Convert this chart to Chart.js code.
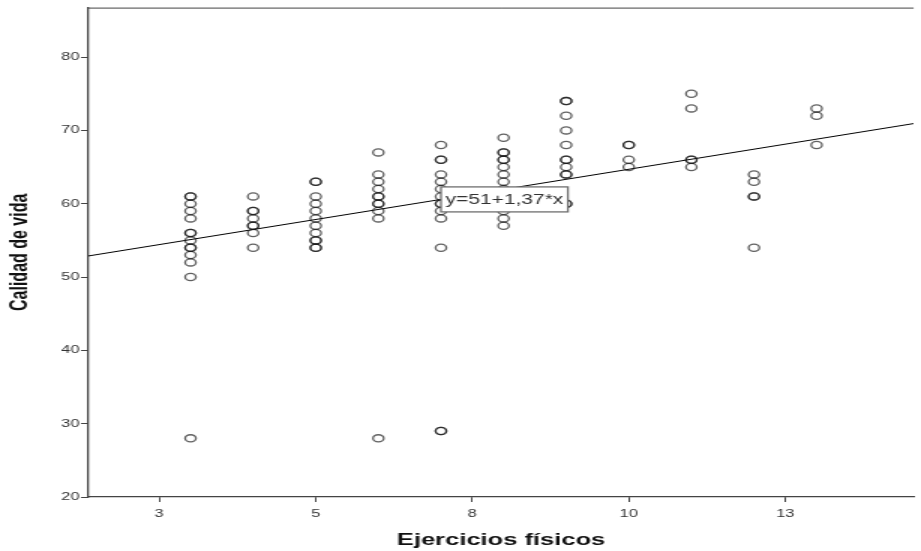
<!DOCTYPE html>
<html>
<head>
<meta charset="utf-8">
<script src="https://cdn.jsdelivr.net/npm/chart.js@4"></script>
<style>
  html, body { margin: 0; padding: 0; background: #fff; }
</style>
</head>
<body>
<!-- the plot is drawn narrow and shown stretched sideways -->
<canvas id="scatter" width="614" height="551" style="width:921px;height:551px;display:block"></canvas>
<script>
// Calidad de vida per value of Ejercicios físicos
const exercises = [3, 4, 5, 6, 7, 8, 9, 10, 11, 12, 13];
const quality3 = [61, 61, 60, 59, 58, 56, 56, 55, 54, 54, 53, 52, 50, 28];
const quality4 = [61, 59, 59, 58, 57, 57, 56, 54];
const quality5 = [63, 63, 61, 60, 59, 58, 57, 56, 55, 55, 54, 54];
const quality6 = [67, 64, 63, 62, 61, 61, 60, 60, 59, 58, 28];
const quality7 = [68, 66, 66, 64, 63, 62, 61, 60, 60, 59, 58, 54, 29, 29];
const quality8 = [69, 67, 67, 66, 66, 65, 64, 63, 62, 61, 60, 59, 58, 57];
const quality9 = [74, 74, 72, 70, 68, 66, 66, 65, 64, 64, 60, 60];
const quality10 = [68, 68, 66, 65];
const quality11 = [75, 73, 66, 66, 65];
const quality12 = [64, 63, 61, 61, 54];
const quality13 = [73, 72, 68];
const qualityByExercise = [quality3, quality4, quality5, quality6, quality7, quality8,
  quality9, quality10, quality11, quality12, quality13];

// fitted line y = a + b*x
const intercept = 51;
const slope = 1.37;
const equationText = "y=51+1,37*x";
const equationAtX = 7;

const xTickValues = [2.5, 5, 7.5, 10, 12.5];
const xTickLabels = ["3", "5", "8", "10", "13"];
const yTickValues = [20, 30, 40, 50, 60, 70, 80];
const xMin = 1.37, xMax = 14.55;
const yMin = 20, yMax = 86.75;

const points = [];
exercises.forEach((ex, i) => {
  qualityByExercise[i].forEach(q => points.push({ x: ex, y: q }));
});
const fitLine = [xMin, xMax].map(x => ({ x: x, y: intercept + slope * x }));

const FONT = "'Liberation Sans', Arial, sans-serif";
Chart.defaults.font.family = FONT;

// top frame line and the equation box on the fitted line
const frameAndLabel = {
  id: "frameAndLabel",
  beforeDatasetsDraw(chart) {
    const { ctx, chartArea: a } = chart;
    ctx.save();
    ctx.strokeStyle = "#444";
    ctx.lineWidth = 1;
    ctx.beginPath();
    ctx.moveTo(a.left, a.top + 0.5);
    ctx.lineTo(a.right, a.top + 0.5);
    ctx.stroke();
    ctx.restore();
  },
  afterDatasetsDraw(chart) {
    const { ctx, scales } = chart;
    const px = scales.x.getPixelForValue(equationAtX);
    const py = scales.y.getPixelForValue(intercept + slope * equationAtX);
    ctx.save();
    ctx.font = "14px " + FONT;
    const w = ctx.measureText(equationText).width + 6;
    const h = 25;
    ctx.fillStyle = "#fff";
    ctx.fillRect(px, py - h / 2, w, h);
    ctx.strokeStyle = "#6f6f6f";
    ctx.lineWidth = 1.3;
    ctx.strokeRect(px, py - h / 2, w, h);
    ctx.fillStyle = "#333";
    ctx.textBaseline = "middle";
    ctx.fillText(equationText, px + 3, py + 1);
    ctx.restore();
  }
};

new Chart(document.getElementById("scatter").getContext("2d"), {
  type: "scatter",
  data: {
    datasets: [
      {
        label: "Calidad de vida",
        data: points,
        pointStyle: "circle",
        pointRadius: 3.6,
        pointHoverRadius: 3.6,
        pointBorderWidth: 1.3,
        pointBorderColor: "rgba(20,20,20,0.68)",
        pointBackgroundColor: "rgba(0,0,0,0)"
      },
      {
        type: "line",
        label: "Ajuste",
        data: fitLine,
        borderColor: "#000",
        borderWidth: 1,
        pointRadius: 0,
        fill: false
      }
    ]
  },
  options: {
    responsive: false,
    devicePixelRatio: 1,
    animation: false,
    layout: { padding: { top: 7, right: 0, left: 0, bottom: 0 } },
    plugins: { legend: { display: false }, tooltip: { enabled: false } },
    scales: {
      x: {
        type: "linear",
        min: xMin,
        max: xMax,
        afterBuildTicks: s => { s.ticks = xTickValues.map(v => ({ value: v })); },
        afterFit: s => { s.height = 54; },
        border: { display: true, color: "#444", width: 1.2 },
        grid: { drawOnChartArea: false, tickLength: 5, tickColor: "#444", tickWidth: 1 },
        ticks: {
          autoSkip: false,
          maxRotation: 0,
          padding: 5,
          color: "#333",
          font: { size: 11 },
          callback: (v, i) => xTickLabels[i]
        },
        title: {
          display: true,
          text: "Ejercicios físicos",
          color: "#111",
          font: { size: 17, weight: "bold" },
          padding: { top: 0, bottom: 0 }
        }
      },
      y: {
        type: "linear",
        min: yMin,
        max: yMax,
        afterBuildTicks: s => { s.ticks = yTickValues.map(v => ({ value: v })); },
        afterFit: s => { s.width = 59; },
        border: { display: true, color: "#444", width: 1.3 },
        grid: { drawOnChartArea: false, tickLength: 5, tickColor: "#444", tickWidth: 1 },
        ticks: {
          autoSkip: false,
          padding: 1,
          color: "#333",
          font: { size: 11 }
        },
        title: {
          display: true,
          text: "Calidad de vida",
          color: "#111",
          font: { size: 16, weight: "bold" },
          padding: { top: 4, bottom: 0 }
        }
      }
    }
  },
  plugins: [frameAndLabel]
});
</script>
</body>
</html>
